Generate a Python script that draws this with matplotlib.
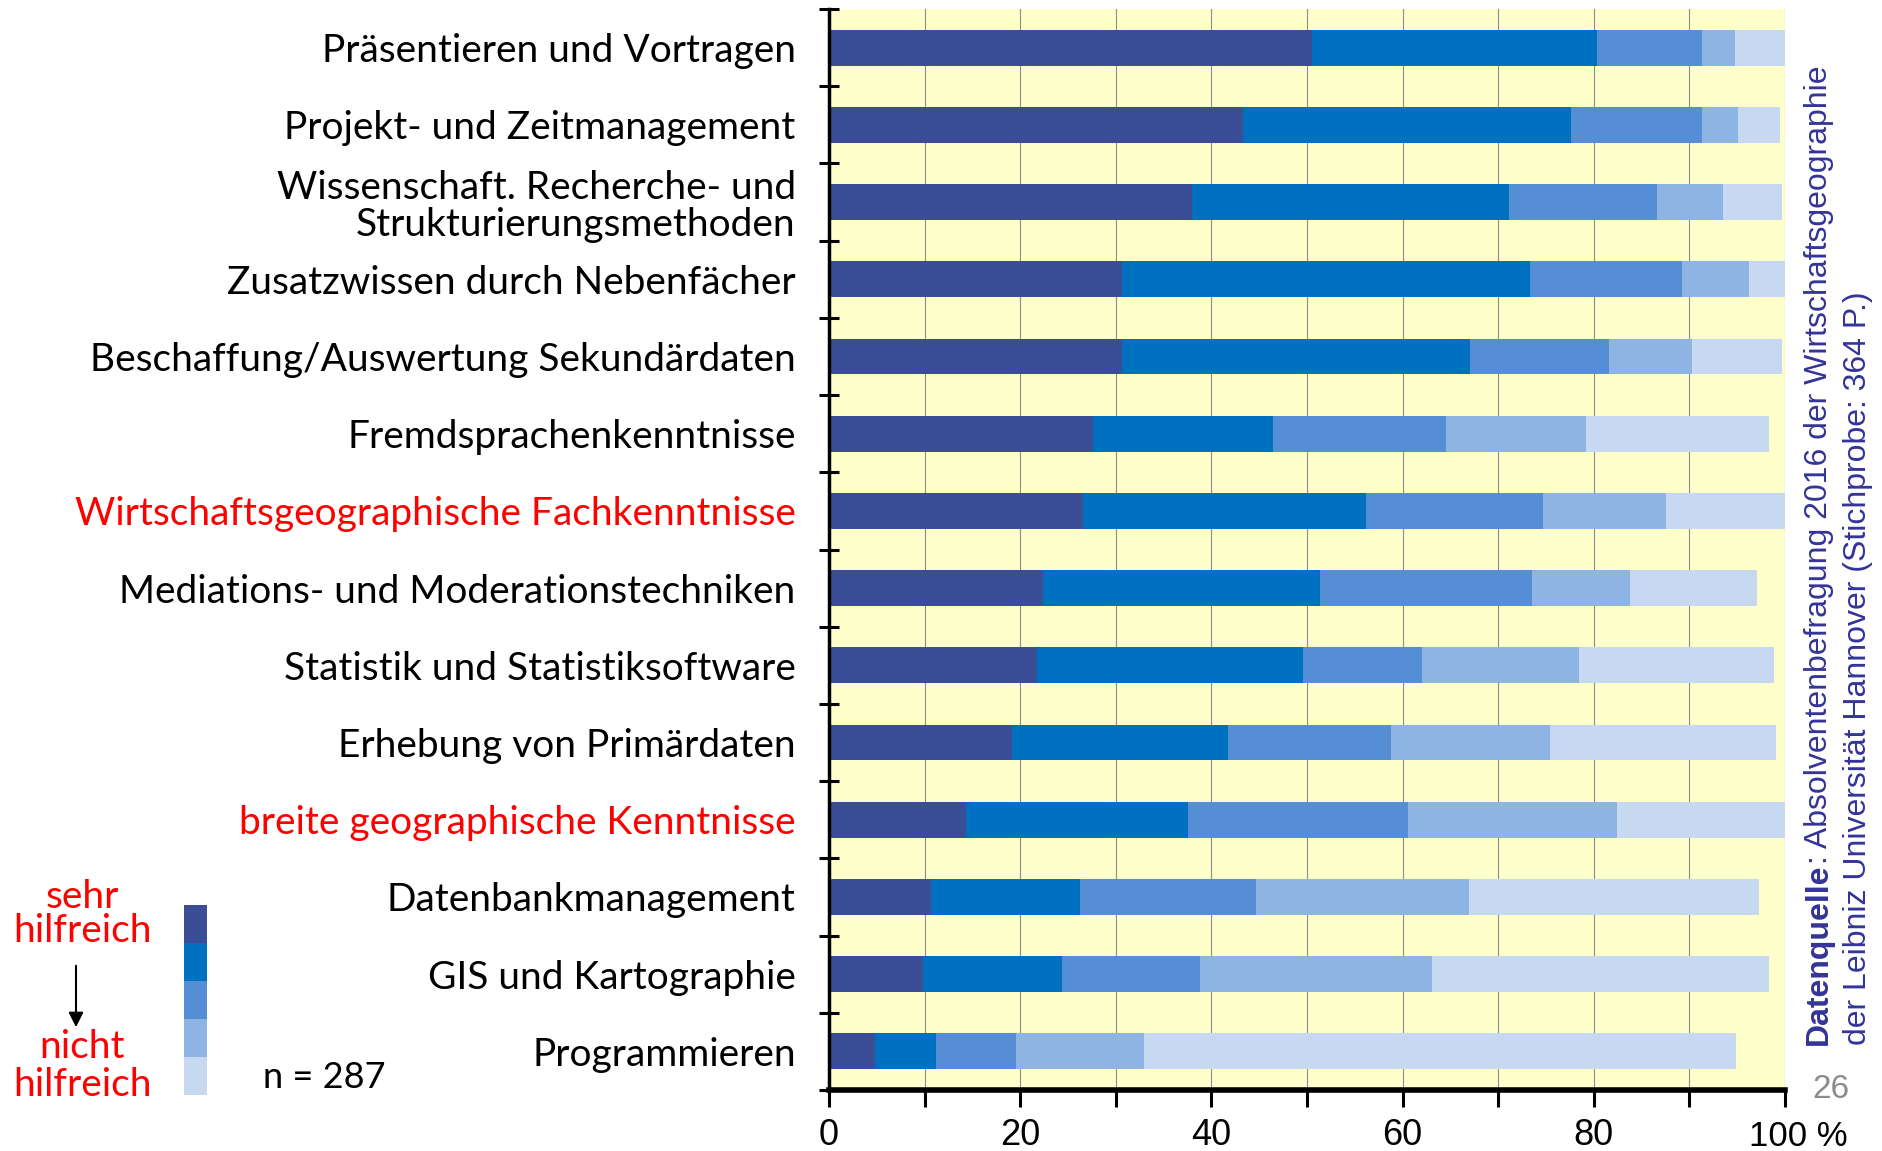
import numpy as np
import matplotlib
matplotlib.use('Agg')
import matplotlib.pyplot as plt

# ── Data (percent per answer category, top row first) ────────────────────────
categories = [
    "Präsentieren und Vortragen",
    "Projekt- und Zeitmanagement",
    "Wissenschaft. Recherche- und\nStrukturierungsmethoden",
    "Zusatzwissen durch Nebenfächer",
    "Beschaffung/Auswertung Sekundärdaten",
    "Fremdsprachenkenntnisse",
    "Wirtschaftsgeographische Fachkenntnisse",
    "Mediations- und Moderationstechniken",
    "Statistik und Statistiksoftware",
    "Erhebung von Primärdaten",
    "breite geographische Kenntnisse",
    "Datenbankmanagement",
    "GIS und Kartographie",
    "Programmieren",
]
highlighted = ["Wirtschaftsgeographische Fachkenntnisse", "breite geographische Kenntnisse"]

sehr_hilfreich = [50.5, 43.3, 38.0, 30.7, 30.7, 27.6, 26.6, 22.4, 21.8, 19.1, 14.3, 10.7, 9.8, 4.8]
hilfreich      = [29.8, 34.3, 33.1, 42.6, 36.3, 18.8, 29.6, 29.0, 27.8, 22.6, 23.3, 15.6, 14.6, 6.4]
teils          = [11.0, 13.7, 15.5, 15.9, 14.6, 18.1, 18.5, 22.1, 12.4, 17.1, 23.0, 18.4, 14.4, 8.4]
wenig          = [3.5, 3.8, 6.9, 7.0, 8.7, 14.7, 12.9, 10.3, 16.4, 16.6, 21.8, 22.2, 24.3, 13.4]
nicht_hilfreich = [5.2, 4.4, 6.2, 3.8, 9.4, 19.1, 12.4, 13.3, 20.5, 23.7, 17.6, 30.4, 35.2, 61.9]

series = [sehr_hilfreich, hilfreich, teils, wenig, nicht_hilfreich]
colors = ["#3A4D96", "#0070C0", "#558ED5", "#8EB4E3", "#C6D9F1"]

x_ticks = [0, 20, 40, 60, 80]   # "100 %" is written separately

LABEL_FONT = ["Lato", "DejaVu Sans"]
NARROW_FONT = ["Liberation Sans Narrow", "Liberation Sans", "DejaVu Sans"]

# ── Figure ───────────────────────────────────────────────────────────────────
fig = plt.figure(figsize=(18.83, 11.51), dpi=100)
ax = fig.add_axes([829 / 1883, 1 - 1090 / 1151, 956 / 1883, 1081 / 1151])
ax.set_facecolor("#FFFFCC")

y = np.arange(len(categories))
left = np.zeros(len(categories))
for vals, col in zip(series, colors):
    ax.barh(y, vals, left=left, height=0.465, color=col, zorder=3)
    left += np.array(vals)

ax.set_xlim(0, 100)
ax.set_ylim(len(categories) - 0.5, -0.5)

# vertical grid
ax.set_xticks(np.arange(0, 101, 10))
ax.xaxis.grid(True, color="#8C8C8C", linewidth=0.8, zorder=1)
ax.set_xticklabels([str(v) if v in x_ticks else "" for v in range(0, 101, 10)],
                   family=NARROW_FONT, fontsize=26)
ax.tick_params(axis="x", direction="out", length=12, width=2.2, pad=8)

# y: labels at centers, ticks at row boundaries
ax.set_yticks(y)
ax.set_yticklabels(categories, family=LABEL_FONT, fontsize=28, linespacing=1.05)
ax.set_yticks(np.arange(-0.5, len(categories), 1), minor=True)
ax.tick_params(axis="y", which="major", length=0, pad=24)
ax.tick_params(axis="y", which="minor", direction="inout", length=14, width=2.2)
for lbl in ax.get_yticklabels():
    if lbl.get_text() in highlighted:
        lbl.set_color("#FF0000")

for side in ["top", "right"]:
    ax.spines[side].set_visible(False)
ax.spines["left"].set_linewidth(2.5)
ax.spines["bottom"].set_linewidth(4)
ax.spines["left"].set_zorder(5)
ax.spines["bottom"].set_zorder(5)

# last tick label with unit
fig.text(1749 / 1883, 1 - 1136 / 1151, "100 %", family=NARROW_FONT, fontsize=25,
         ha="left", va="center")

# ── Source text on the right ─────────────────────────────────────────────────
src_col = "#333399"
t1 = fig.text(1819 / 1883, 1 - 1045 / 1151, "Datenquelle", family=NARROW_FONT,
              fontsize=23, fontweight="bold", color=src_col, rotation=90,
              ha="center", va="bottom")
ax.annotate(": Absolventenbefragung 2016 der Wirtschaftsgeographie",
            xy=(0.5, 1), xycoords=t1, family=NARROW_FONT, fontsize=23,
            color=src_col, rotation=90, ha="center", va="bottom",
            annotation_clip=False)
fig.text(1858 / 1883, 1 - 1045 / 1151,
         "der Leibniz Universität Hannover (Stichprobe: 364 P.)",
         family=NARROW_FONT, fontsize=23, color=src_col, rotation=90,
         ha="center", va="bottom")

# page number
fig.text(1831 / 1883, 1 - 1090 / 1151, "26", family=NARROW_FONT, fontsize=24,
         color="#8C8C8C", ha="center", va="center")

# ── Legend on the left ───────────────────────────────────────────────────────
fig.text(82 / 1883, 1 - 914 / 1151, "sehr\nhilfreich", family=LABEL_FONT,
         fontsize=28, color="#FF0000", ha="center", va="center", linespacing=0.95)
fig.text(82 / 1883, 1 - 1066 / 1151, "nicht\nhilfreich", family=LABEL_FONT,
         fontsize=28, color="#FF0000", ha="center", va="center", linespacing=1.05)
fig.patches.append(matplotlib.patches.FancyArrowPatch(
    (76 / 1883, 1 - 963 / 1151), (76 / 1883, 1 - 1030 / 1151),
    transform=fig.transFigure, arrowstyle="-|>", mutation_scale=22,
    color="black", linewidth=1.5))

lax = fig.add_axes([184 / 1883, 1 - 1095 / 1151, 23 / 1883, 190 / 1151])
lax.bar(np.zeros(len(colors)), np.ones(len(colors)), bottom=np.arange(len(colors))[::-1],
        width=1, color=colors)
lax.set_xlim(-0.5, 0.5)
lax.set_ylim(0, len(colors))
lax.axis("off")

fig.text(324 / 1883, 1 - 1078 / 1151, "n = 287", family=LABEL_FONT, fontsize=26,
         ha="center", va="center")

fig.savefig("out.png", dpi=100)
